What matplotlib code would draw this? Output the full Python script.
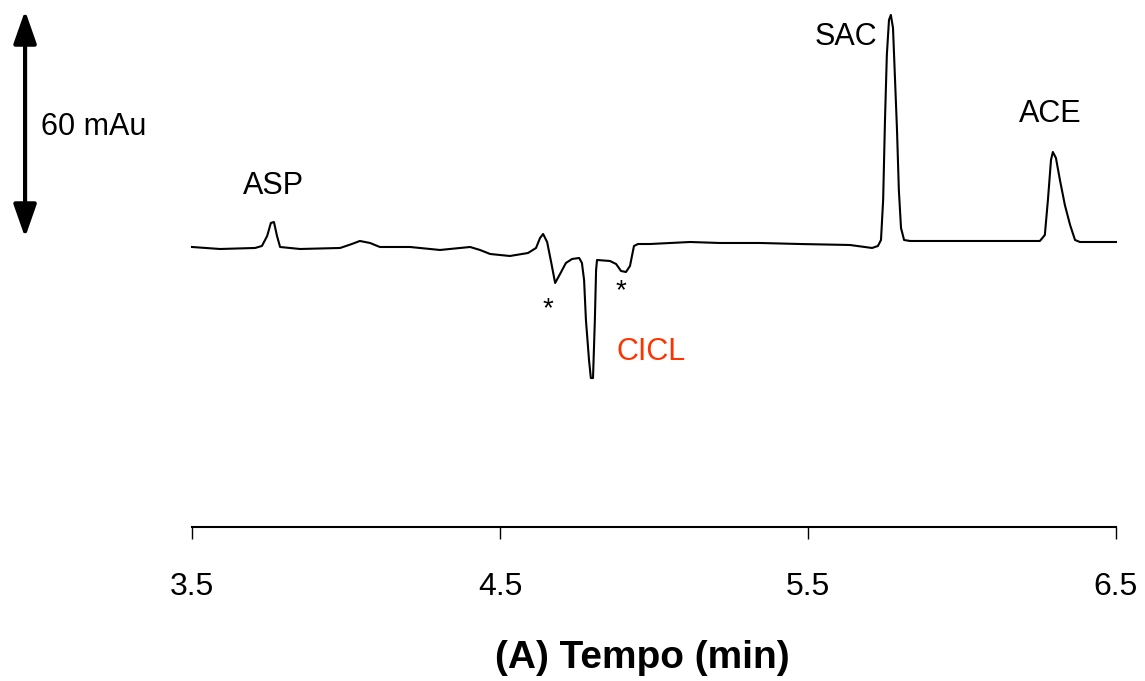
import matplotlib
matplotlib.use('Agg')
import matplotlib.pyplot as plt
import numpy as np

plt.rcParams['font.family'] = ['Liberation Sans', 'DejaVu Sans']

# Tracciato elettroforetico: tempo (min) e segnale (mAu)
tempo = [3.500, 3.591, 3.705, 3.727, 3.744, 3.756, 3.766, 3.776, 3.786, 3.851,
         3.981, 4.019, 4.045, 4.078, 4.110, 4.208, 4.305, 4.403, 4.435, 4.468,
         4.532, 4.591, 4.617, 4.630, 4.640, 4.653, 4.666, 4.679, 4.695, 4.714,
         4.734, 4.757, 4.766, 4.773, 4.779, 4.789, 4.795, 4.802, 4.808, 4.812,
         4.815, 4.857, 4.877, 4.893, 4.909, 4.922, 4.935, 4.948, 4.987, 5.117,
         5.214, 5.344, 5.474, 5.636, 5.708, 5.727, 5.737, 5.744, 5.750, 5.756,
         5.763, 5.769, 5.776, 5.782, 5.789, 5.795, 5.802, 5.812, 5.831, 5.994,
         6.123, 6.253, 6.269, 6.279, 6.289, 6.295, 6.305, 6.318, 6.334, 6.351,
         6.367, 6.383, 6.500]
segnale = [-0.53, -1.06, -0.79, -0.26, 2.38, 5.82, 6.08, 2.38, -0.53, -1.06,
           -0.79, 0.26, 1.06, 0.53, -0.53, -0.53, -1.32, -0.53, -1.32, -2.38,
           -2.91, -2.12, -0.79, 1.85, 2.91, 0.79, -4.50, -10.05, -7.67, -4.76,
           -3.70, -3.44, -4.76, -9.26, -19.84, -30.42, -35.19, -35.19, -19.84, -6.61,
           -3.97, -4.23, -5.03, -6.88, -7.14, -5.56, -0.26, 0.26, 0.26, 0.79,
           0.53, 0.53, 0.26, 0.00, -0.79, -0.26, 1.32, 11.9, 33.07, 50.26,
           59.52, 60.85, 57.41, 44.97, 30.42, 14.55, 4.50, 1.32, 1.06, 1.06,
           1.06, 1.06, 2.65, 11.9, 22.49, 24.60, 23.02, 17.20, 10.58, 5.29,
           1.32, 0.79, 0.79]

# Etichette dei picchi (nome, tempo, segnale, colore)
picchi = ['ASP', 'SAC', 'ACE', 'CICL']
picchi_t = [3.763, 5.623, 6.286, 4.990]
picchi_y = [15.6, 55.0, 34.7, -28.3]
picchi_col = ['black', 'black', 'black', '#ff3300']

# Asterischi (picchi di sistema)
stelle_t = [4.656, 4.893]
stelle_y = [-18.8, -14.0]

xticks = [3.5, 4.5, 5.5, 6.5]
scala_mAu = 60

fig = plt.figure(figsize=(11.45, 6.81), dpi=100)
ax = fig.add_axes([0, 0.2261, 1, 0.7739])
ax.set_xlim(2.8766, 6.5942)
ax.set_ylim(-74.6, 64.8)

ax.plot(tempo, segnale, color='black', lw=1.5)

for nome, t, y, c in zip(picchi, picchi_t, picchi_y, picchi_col):
    ax.text(t, y, nome, ha='center', va='center', fontsize=22, color=c)

for t, y in zip(stelle_t, stelle_y):
    ax.text(t, y, '*', ha='center', va='baseline', fontsize=20, color='black')

# Barra di scala verticale
ax.annotate('', xy=(2.958, 2.0), xytext=(2.958, 2.0 + scala_mAu),
            arrowprops=dict(arrowstyle='<|-|>,head_length=1.0,head_width=0.35',
                            mutation_scale=20, lw=3, color='black',
                            shrinkA=0, shrinkB=0))
ax.text(3.01, 31.2, f'{scala_mAu} mAu', ha='left', va='center', fontsize=22)

for s in ['top', 'left', 'right']:
    ax.spines[s].set_visible(False)
ax.spines['bottom'].set_bounds(3.5, 6.5)
ax.spines['bottom'].set_linewidth(1.5)
ax.set_yticks([])
ax.set_xticks(xticks)
ax.set_xticklabels([f'{v:.1f}' for v in xticks])
ax.tick_params(axis='x', direction='out', length=8.5, width=1, labelsize=23, pad=24)
ax.set_xlabel('(A) Tempo (min)', fontsize=28, fontweight='bold', labelpad=26)
ax.xaxis.set_label_coords(0.5607, -0.215)
ax.patch.set_alpha(0)

fig.savefig('out.png', dpi=100)
